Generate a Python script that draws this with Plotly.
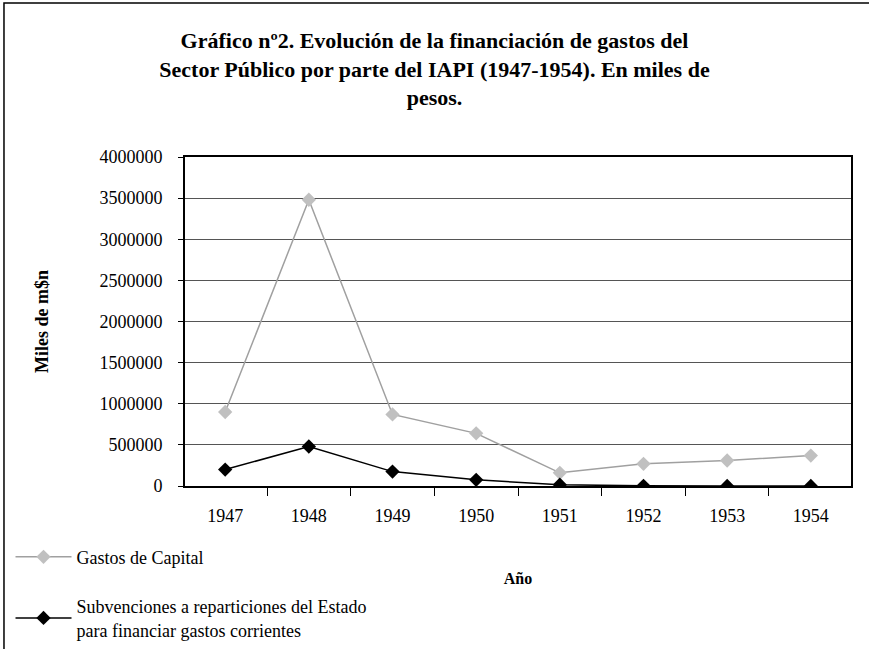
import plotly.graph_objects as go

years = ["1947", "1948", "1949", "1950", "1951", "1952", "1953", "1954"]
gastos_capital = [900000, 3480000, 870000, 640000, 160000, 270000, 310000, 370000]
subvenciones = [200000, 480000, 175000, 75000, 15000, 2000, 1000, 1000]
y_ticks = [0, 500000, 1000000, 1500000, 2000000, 2500000, 3000000, 3500000, 4000000]

serif = "Liberation Serif"

fig = go.Figure()
fig.add_trace(go.Scatter(
    x=years, y=gastos_capital, mode="lines+markers", name="Gastos de Capital",
    legendgroup="a",
    line=dict(color="#a0a0a0", width=1.5),
    marker=dict(symbol="diamond", size=11, color="#c0c0c0"),
))
fig.add_trace(go.Scatter(
    x=years, y=subvenciones, mode="lines+markers",
    name="Subvenciones a reparticiones del Estado<br>para financiar gastos corrientes",
    legendgroup="b",
    line=dict(color="black", width=1.5),
    marker=dict(symbol="diamond", size=11, color="black"),
))

fig.update_layout(
    width=869, height=649,
    paper_bgcolor="white", plot_bgcolor="white",
    margin=dict(l=185, r=18, t=157, b=163, autoexpand=False),
    font=dict(family=serif, size=18, color="black"),
    title=dict(
        text="<b>Gráfico nº2. Evolución de la financiación de gastos del<br>Sector Público por parte del IAPI (1947-1954). En miles de<br>pesos.</b>",
        x=0.5, xanchor="center", y=0.926, yanchor="top",
        font=dict(family=serif, size=22, color="black"),
    ),
    showlegend=True,
    legend=dict(
        x=-0.262, y=-0.16, xanchor="left", yanchor="top",
        bgcolor="rgba(0,0,0,0)", font=dict(family=serif, size=18),
        tracegroupgap=23, itemwidth=56,
    ),
    xaxis=dict(
        type="category", showgrid=False, showline=True, linecolor="black", linewidth=2,
        mirror=True, ticks="outside", tickson="boundaries", ticklen=8, tickcolor="black",
        tickfont=dict(family=serif, size=18), ticklabelstandoff=12,
        title=dict(text="<b>Año</b>", font=dict(family=serif, size=16), standoff=48),
    ),
    yaxis=dict(
        range=[0, 4000000], tickvals=y_ticks, tickformat="d",
        showgrid=True, gridcolor="#555555", gridwidth=1,
        showline=True, linecolor="black", linewidth=2, mirror=True,
        ticks="outside", ticklen=5, tickcolor="black",
        tickfont=dict(family=serif, size=18), zeroline=False, ticklabelstandoff=12,
        title=dict(text="<b>Miles de m$n</b>", font=dict(family=serif, size=18), standoff=46),
    ),
    shapes=[dict(
        type="rect", xref="paper", yref="paper",
        x0=-0.2718, x1=1.2, y0=-0.8, y1=1.468,
        line=dict(color="black", width=1.5), fillcolor="rgba(0,0,0,0)", layer="below",
    )],
)

fig.write_html("out.html", config={"displayModeBar": False},
               post_script="document.body.style.margin='0px';")
